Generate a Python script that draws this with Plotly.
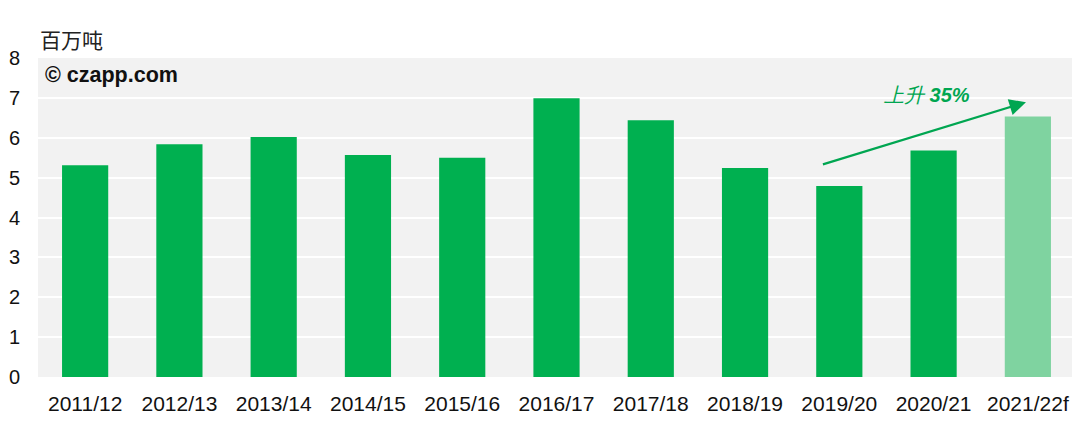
import plotly.graph_objects as go

### Data
seasons = ['2011/12', '2012/13', '2013/14', '2014/15', '2015/16', '2016/17',
           '2017/18', '2018/19', '2019/20', '2020/21', '2021/22f']
volumes = [5.31, 5.84, 6.02, 5.57, 5.50, 6.99, 6.44, 5.24, 4.79, 5.68, 6.53]
forecast = [False] * 10 + [True]

arrow_from = ('2019/20', 5.32)
arrow_to = ('2021/22f', 6.89)
arrow_text = '<i>上升 <b>35%</b></i>'

green = '#00B050'
green_light = '#7FD3A0'
colors = [green_light if f else green for f in forecast]

fig = go.Figure()

# bars
fig.add_trace(
    go.Bar(
        x=seasons,
        y=volumes,
        marker=dict(color=colors, line=dict(width=0)),
        width=0.49,
        showlegend=False
    ))

# arrow: tail a bit right of the 2019/20 bar centre, head close to the forecast bar
fig.add_annotation(
    x=10 - 0.02, y=arrow_to[1],
    ax=8 - 0.19, ay=arrow_from[1],
    xref='x', yref='y', axref='x', ayref='y',
    showarrow=True, arrowhead=2, arrowsize=1.5, arrowwidth=2.2,
    arrowcolor='#00A651', text=''
)
fig.add_annotation(
    x=8.93, y=7.06, xref='x', yref='y',
    text=arrow_text, showarrow=False,
    font=dict(size=20, color='#00A651', family='Liberation Sans, Arial')
)

# unit label and copyright
fig.add_annotation(
    x=0.0, y=1.0, xref='paper', yref='paper',
    xanchor='left', yanchor='bottom', yshift=2, xshift=0,
    text='百万吨', showarrow=False,
    font=dict(size=21, color='#222', family='Noto Sans CJK SC')
)
fig.add_annotation(
    x=0.0, y=1.0, xref='paper', yref='paper',
    xanchor='left', yanchor='top', xshift=5, yshift=-3,
    text='<b>© czapp.com</b>', showarrow=False,
    font=dict(size=21.5, color='#111', family='Liberation Sans, Arial')
)

# page body keeps an 8px margin, so the figure is 8px smaller each way
fig.update_layout(
    width=1072,
    height=431,
    margin=dict(l=30, r=5, t=50, b=62),
    paper_bgcolor='white',
    plot_bgcolor='#F2F2F2',
    font=dict(family='Liberation Sans, Arial', color='#111'),
    bargap=0.51,
    xaxis=dict(
        type='category',
        range=[-0.5, 10.5],
        automargin=False,
        showgrid=False,
        showline=False,
        ticks='',
        tickfont=dict(size=21, color='#111'),
        ticklabelstandoff=12
    ),
    yaxis=dict(
        range=[0, 8],
        dtick=1,
        automargin=False,
        showgrid=True,
        gridcolor='white',
        gridwidth=2,
        zeroline=False,
        showline=False,
        ticks='',
        tickfont=dict(size=20, color='#111'),
        ticklabelstandoff=17
    )
)

fig.write_html("out.html")
